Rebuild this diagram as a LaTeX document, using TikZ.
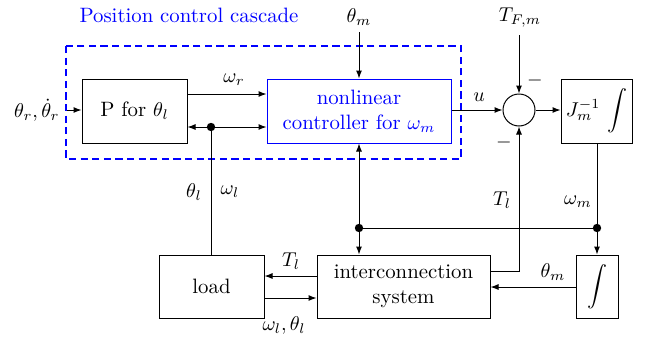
\documentclass[tikz,border=0pt]{standalone}
\usetikzlibrary{arrows.meta}
\definecolor{pblue}{RGB}{0,0,255}
\tikzset{
  base/.style={font=\fontsize{10.4}{12.5}\selectfont},
  blk/.style={draw, line width=0.5pt, inner sep=0pt, align=center, base},
  lbl/.style={base, inner sep=0pt},
  sig/.style={line width=0.5pt, -{Latex[length=4pt,width=3pt]}},
  wire/.style={line width=0.5pt},
  jdot/.style={circle, fill=black, inner sep=0pt, minimum size=4.2pt}
}
\begin{document}
\begin{tikzpicture}[x=0.5pt,y=-0.5pt]
\useasboundingbox (0,0) rectangle (648,338);
% blocks
\node[blk, minimum width=52.5pt, minimum height=32pt] (P) at (134.5,111) {P for $\theta_l$};
\node[blk, draw=pblue, text=pblue, minimum width=92pt, minimum height=32pt] (C) at (359,111) {nonlinear\\controller for $\omega_m$};
\node[draw, circle, line width=0.5pt, minimum size=16pt, inner sep=0pt] (S) at (519,110) {};
\node[blk, minimum width=35.5pt, minimum height=32pt] (J) at (596.5,111) {$J_m^{-1}\,\displaystyle\int$};
\node[blk, minimum width=52.5pt, minimum height=31.5pt] (L) at (211.5,286.5) {load};
\node[blk, minimum width=86.5pt, minimum height=31.5pt] (I) at (403.5,286.5) {interconnection\\system};
\node[blk, minimum width=21pt, minimum height=31.5pt] (K) at (597,286.5) {$\displaystyle\int$};
% dashed cascade box
\draw[pblue, line width=1pt, dash pattern=on 3.6pt off 2.2pt] (66,46) rectangle (461,159);
\node[lbl, text=pblue] (cas) at (189,15) {Position control cascade};
% labels
\node[lbl, anchor=east] (in) at (60,110) {$\theta_r,\dot{\theta}_r$};
\node[lbl] (wr) at (234,80) {$\omega_r$};
\node[lbl] (thm) at (359,17) {$\theta_m$};
\node[lbl] (tfm) at (520,18) {$T_{F,m}$};
\node[lbl] (u) at (479,97) {$u$};
\node[lbl] (m1) at (535,80) {$-$};
\node[lbl] (m2) at (504,142) {$-$};
\node[lbl] (thl) at (194,192) {$\theta_l$};
\node[lbl] (wl) at (230,192) {$\omega_l$};
\node[lbl] (Tl1) at (502,200) {$T_l$};
\node[lbl] (wm) at (578,202) {$\omega_m$};
\node[lbl] (Tl2) at (291,261) {$T_l$};
\node[lbl] (wt) at (284,325) {$\omega_l,\theta_l$};
\node[lbl] (thm2) at (553,272) {$\theta_m$};
% coordinates
\coordinate (thmtop) at (359,32);
\coordinate (tftop) at (519,35);
\coordinate (d1) at (211,127);
\coordinate (d2) at (359,228);
\coordinate (d3) at (597,228);
\coordinate (tlc) at (519,271);
\coordinate (ins) at (67,110);
% connectors
\draw[sig] (ins) -- (P.west |- ins);
\draw[sig] ([yshift=8.5pt]P.east) -- ([yshift=8.5pt]C.west);
\draw[sig] (d1) -- (C.west |- d1);
\draw[sig] (d1) -- (P.east |- d1);
\node[jdot] (dot1) at (d1) {};
\draw[wire] (d1) -- (L.north -| d1);
\draw[sig] (thmtop) -- (C.north);
\draw[sig] (C.east |- S) -- (S.west);
\draw[sig] (tftop) -- (S.north);
\draw[sig] (S.east) -- (J.west |- S);
\draw[sig] (d2) -- (C.south -| d2);
\draw[sig] (d2) -- (I.north -| d2);
\draw[wire] (d2) -- (d3);
\draw[wire] (J.south -| d3) -- (d3);
\draw[sig] (d3) -- (K.north -| d3);
\node[jdot] (dot2) at (d2) {};
\node[jdot] (dot3) at (d3) {};
\draw[sig] (I.east |- tlc) -- (tlc) -- (S.south);
\draw[sig] (I.west |- 0,276) -- (L.east |- 0,276);
\draw[sig] (L.east |- 0,298) -- (I.west |- 0,298);
\draw[sig] (K.west |- 0,287) -- (I.east |- 0,287);
\end{tikzpicture}
\end{document}
